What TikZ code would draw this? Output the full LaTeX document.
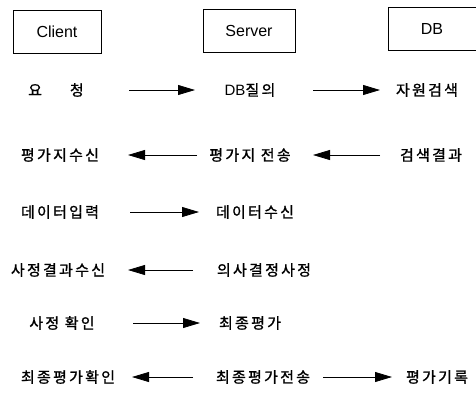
\documentclass[tikz,border=0pt]{standalone}
\usepackage{fontspec}
\setmainfont{Liberation Sans}
\newfontfamily\kr[LetterSpace=15,FakeBold=1.2]{Noto Sans CJK KR}
\usetikzlibrary{arrows.meta}
\begin{document}
\begin{tikzpicture}[x=1pt,y=-1pt,
  hdr/.style={draw,line width=0.8pt,minimum width=88pt,minimum height=43pt,font=\fontsize{16}{18}\selectfont},
  lbl/.style={inner sep=0pt,font=\kr\fontsize{15}{17}\selectfont},
  flow/.style={line width=0.8pt,-{Triangle[length=17pt,width=10pt]}}]
\useasboundingbox (0,0) rectangle (476,392);
\node[hdr] (c) at (57,31.5) {Client};
\node[hdr,minimum width=92pt] (s) at (249,30.5) {Server};
\node[hdr] (d) at (432,29) {DB};
% row 1
\node[lbl] (a1) at (56,90) {요\hspace{28pt}청};
\node[lbl] (b1) at (250,90) {{\normalfont\fontsize{15}{17}\selectfont DB}질의};
\node[lbl] (e1) at (427,90) {자원검색};
% row 2
\node[lbl] (a2) at (60,155) {평가지수신};
\node[lbl] (b2) at (250,155) {평가지 전송};
\node[lbl] (e2) at (431,155) {검색결과};
% row 3
\node[lbl] (a3) at (60,212) {데이터입력};
\node[lbl] (b3) at (255,212) {데이터수신};
% row 4
\node[lbl] (a4) at (58,270) {사정결과수신};
\node[lbl] (b4) at (264,270) {의사결정사정};
% row 5
\node[lbl] (a5) at (62,323) {사정 확인};
\node[lbl] (b5) at (250,323) {최종평가};
% row 6
\node[lbl] (a6) at (68,377) {최종평가확인};
\node[lbl] (b6) at (263,377) {최종평가전송};
\node[lbl] (e6) at (437,377) {평가기록};
% arrows
\draw[flow,shorten <=73pt,shorten >=55pt] (a1.center) -- (b1.center);
\draw[flow,shorten <=63pt,shorten >=47pt] (b1.center) -- (e1.center);
\draw[flow,shorten <=53pt,shorten >=68pt] (b2.center) -- (a2.center);
\draw[flow,shorten <=51pt,shorten >=63pt] (e2.center) -- (b2.center);
\draw[flow,shorten <=70pt,shorten >=56pt] (a3.center) -- (b3.center);
\draw[flow,shorten <=71pt,shorten >=70pt] (b4.center) -- (a4.center);
\draw[flow,shorten <=71pt,shorten >=50pt] (a5.center) -- (b5.center);
\draw[flow,shorten <=70pt,shorten >=64pt] (b6.center) -- (a6.center);
\draw[flow,shorten <=60pt,shorten >=45pt] (b6.center) -- (e6.center);
\end{tikzpicture}
\end{document}
